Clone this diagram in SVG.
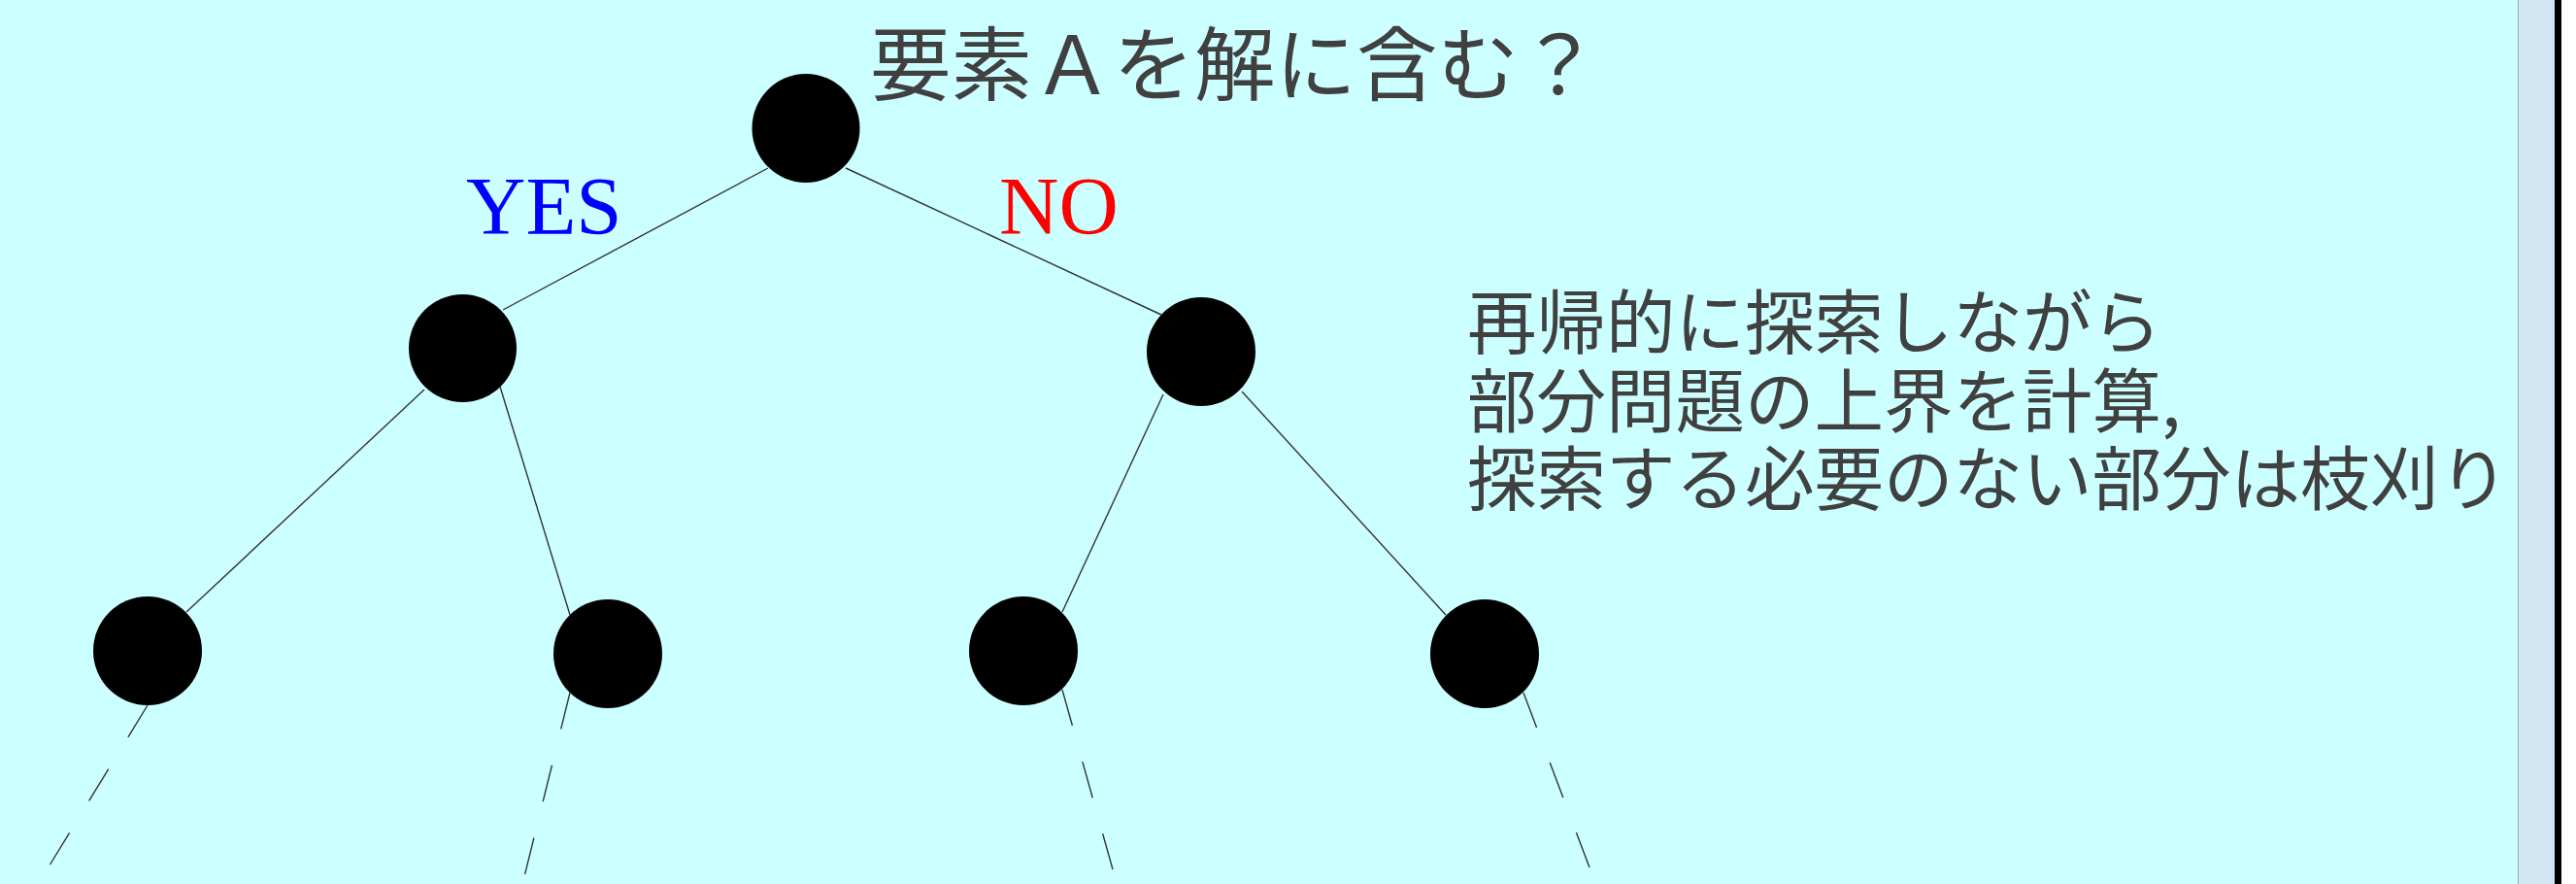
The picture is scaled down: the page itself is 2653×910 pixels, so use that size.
<svg xmlns="http://www.w3.org/2000/svg" width="2653" height="910" viewBox="0 0 2653 910">
<style>
.node{fill:#000}
.edge{stroke:#333;stroke-width:1.4;fill:none}
.dash{stroke:#333;stroke-width:1.4;fill:none;stroke-dasharray:38.5 38.5}
.jp{font-family:"Noto Sans CJK JP","Noto Sans CJK SC",sans-serif;fill:#404040}
.lat{font-family:"Liberation Serif","Times New Roman",serif;font-size:85px}
</style>
<rect x="0" y="0" width="2653" height="910" fill="#FFFFFF"/>
<rect x="0" y="0" width="2593" height="910" fill="#CCFFFF"/>
<rect x="2593" y="0" width="38" height="910" fill="#D0E6F3"/>
<line x1="2593.5" y1="0" x2="2593.5" y2="910" stroke="#9AAAB4" stroke-width="1"/>
<rect x="2631" y="0" width="7" height="910" fill="#000"/>
<g id="connectors">
<line class="edge" x1="791" y1="173" x2="518" y2="319"/>
<line class="edge" x1="871" y1="173" x2="1196" y2="324"/>
<line class="edge" x1="437" y1="401" x2="192" y2="630"/>
<line class="edge" x1="515" y1="398" x2="587" y2="633"/>
<line class="edge" x1="1198" y1="406" x2="1094" y2="630"/>
<line class="edge" x1="1279" y1="403" x2="1489" y2="633"/>
<line class="dash" x1="152" y1="726" x2="51.5" y2="890"/>
<line class="dash" x1="587" y1="713" x2="540.6" y2="900"/>
<line class="dash" x1="1094" y1="710" x2="1146" y2="895"/>
<line class="dash" x1="1569" y1="713" x2="1637" y2="893"/>
</g>
<g id="root"><ellipse class="node" cx="830" cy="132" rx="55.5" ry="56"/></g>
<g id="yes-node"><ellipse class="node" cx="476.5" cy="358.5" rx="55.5" ry="55.5"/></g>
<g id="no-node"><ellipse class="node" cx="1237" cy="362" rx="56" ry="56"/></g>
<g id="leaf1"><ellipse class="node" cx="152" cy="670" rx="56" ry="56"/></g>
<g id="leaf2"><ellipse class="node" cx="626" cy="673" rx="56" ry="56"/></g>
<g id="leaf3"><ellipse class="node" cx="1054" cy="670" rx="56" ry="56"/></g>
<g id="leaf4"><ellipse class="node" cx="1529" cy="673" rx="56" ry="56"/></g>
<g id="labels">
<text class="jp" x="896" y="97" font-size="83.5">要素Ａを解に含む？</text>
<text class="lat" x="480" y="241" fill="#0000FF">YES</text>
<text class="lat" x="1029" y="241" fill="#FF0000">NO</text>
<text class="jp" font-size="71.5"><tspan x="1511" y="358">再帰的に探索しながら</tspan><tspan x="1511" y="439">部分問題の上界を計算,</tspan><tspan x="1511" y="519">探索する必要のない部分は枝刈り</tspan></text>
</g>
</svg>
